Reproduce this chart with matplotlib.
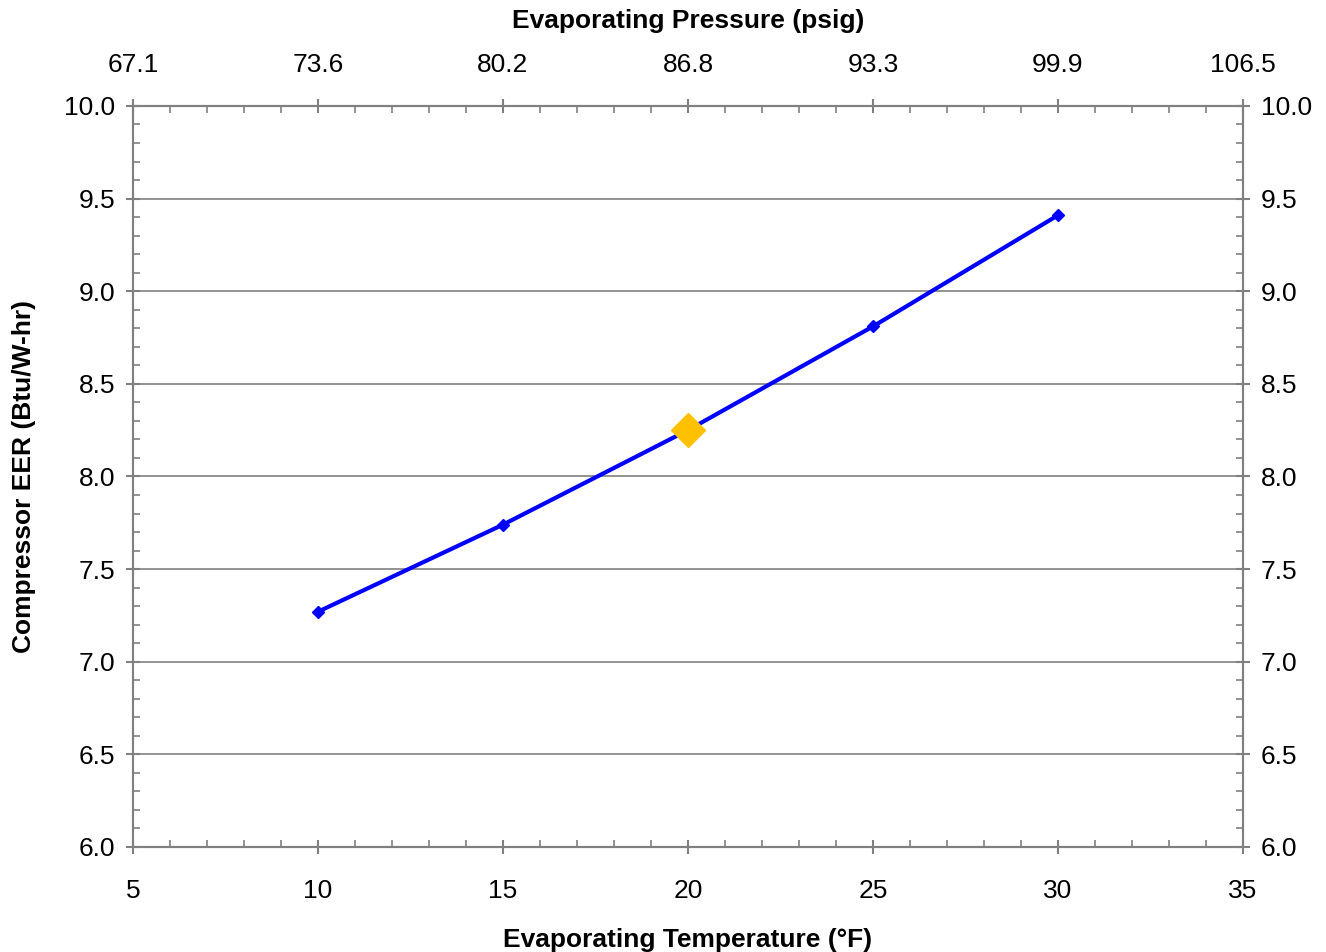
import matplotlib.pyplot as plt
from matplotlib.ticker import MultipleLocator

plt.rcParams['font.family'] = ['Liberation Sans', 'DejaVu Sans']

# dados
temp = [10, 15, 20, 25, 30]
eer = [7.27, 7.74, 8.25, 8.81, 9.41]
ponto_temp = [20]
ponto_eer = [8.25]
pressao_ticks = [5, 10, 15, 20, 25, 30, 35]
pressao_labels = ['67.1', '73.6', '80.2', '86.8', '93.3', '99.9', '106.5']

fig = plt.figure(figsize=(13.26, 9.52), dpi=100)
ax = fig.add_axes([0.1003, 0.1103, 0.8371, 0.7784])

cinza = '#808080'
ax.plot(temp, eer, color='#0000ff', lw=3, marker='D', ms=6, zorder=3)
ax.plot(ponto_temp, ponto_eer, 'D', color='#ffc000', ms=17, zorder=4)

ax.set_xlim(5, 35)
ax.set_ylim(6.0, 10.0)
ax.xaxis.set_major_locator(MultipleLocator(5))
ax.xaxis.set_minor_locator(MultipleLocator(1))
ax.yaxis.set_major_locator(MultipleLocator(0.5))
ax.yaxis.set_minor_locator(MultipleLocator(0.1))
ax.yaxis.set_major_formatter(lambda v, p: f'{v:.1f}')
ax.grid(axis='y', color=cinza, lw=1.2)
ax.set_axisbelow(True)

for s in ax.spines.values():
    s.set_color(cinza)
    s.set_linewidth(1.5)

ax.tick_params(which='major', direction='inout', length=10, width=1.5, color=cinza,
               labelsize=19, pad=8, right=True, labelright=True)
ax.tick_params(axis='x', which='major', pad=18)
ax.tick_params(which='minor', direction='in', length=5, width=1.2, color=cinza, right=True)

ax.set_xlabel('Evaporating Temperature (°F)', fontsize=19, fontweight='bold', labelpad=18)
ax.set_ylabel('Compressor EER (Btu/W-hr)', fontsize=19, fontweight='bold', labelpad=20)

top = ax.twiny()
top.set_xlim(ax.get_xlim())
top.set_xticks(pressao_ticks)
top.set_xticklabels(pressao_labels)
top.xaxis.set_minor_locator(MultipleLocator(1))
top.tick_params(which='major', direction='inout', length=10, width=1.5, color=cinza,
                labelsize=19, pad=16)
top.tick_params(which='minor', direction='in', length=5, width=1.2, color=cinza)
for s in top.spines.values():
    s.set_color(cinza)
    s.set_linewidth(1.5)
top.set_xlabel('Evaporating Pressure (psig)', fontsize=19, fontweight='bold', labelpad=18)

fig.savefig('out.png', dpi=100)
